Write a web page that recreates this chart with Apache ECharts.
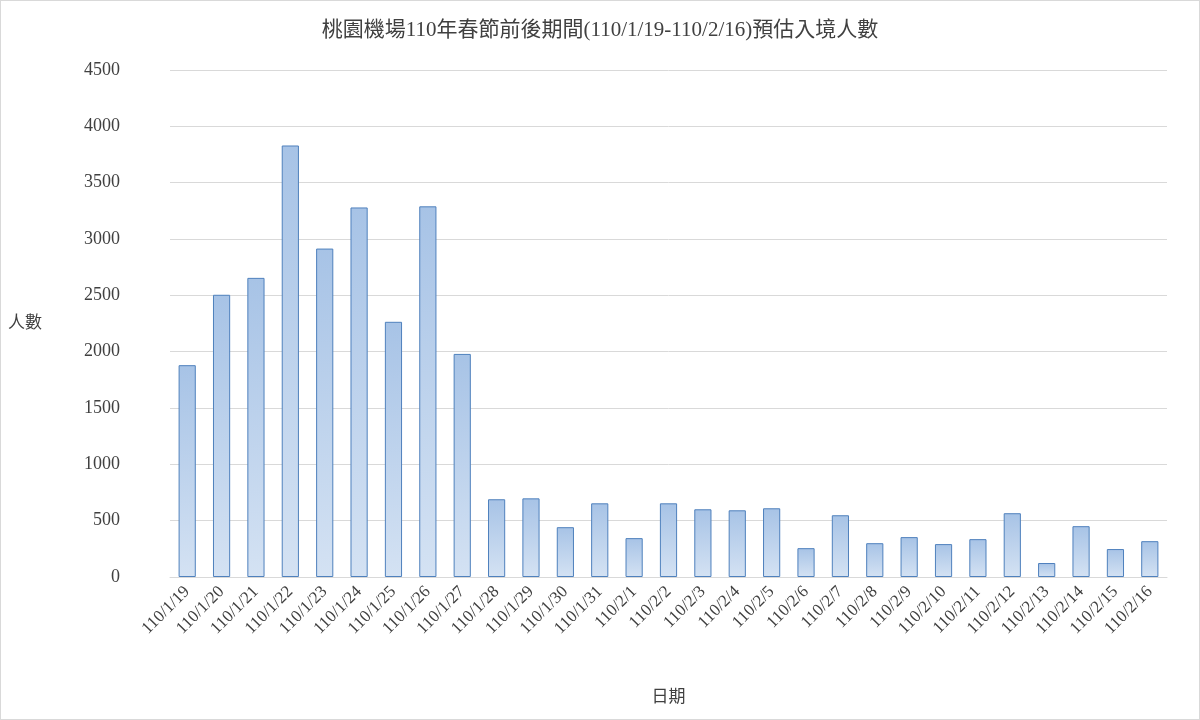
<!DOCTYPE html>
<html><head><meta charset="utf-8">
<script src="https://cdn.jsdelivr.net/npm/echarts@6/dist/echarts.min.js"></script>
<style>html,body{margin:0;padding:0;background:#fff}#c{width:1200px;height:720px;box-sizing:border-box;border:1px solid #d9d9d9}</style>
</head><body><div id="c"></div>
<script>
const title = '桃園機場110年春節前後期間(110/1/19-110/2/16)預估入境人數';
const categories = ['110/1/19','110/1/20','110/1/21','110/1/22','110/1/23','110/1/24','110/1/25','110/1/26','110/1/27','110/1/28','110/1/29','110/1/30','110/1/31','110/2/1','110/2/2','110/2/3','110/2/4','110/2/5','110/2/6','110/2/7','110/2/8','110/2/9','110/2/10','110/2/11','110/2/12','110/2/13','110/2/14','110/2/15','110/2/16'];
const values = [1880,2505,2655,3830,2915,3280,2265,3290,1980,690,698,442,654,345,654,601,592,610,256,548,300,354,292,336,566,124,451,248,318];
const yTicks = {min:0, max:4500, interval:500};
const font = '"Liberation Serif","Noto Sans CJK TC",serif';
const chart = echarts.init(document.getElementById('c'));
chart.setOption({
  animation:false,
  textStyle:{fontFamily:font},
  title:{text:title,left:'center',top:14,textStyle:{fontFamily:font,fontSize:21,fontWeight:'normal',color:'#404040'}},
  grid:{left:169,right:32,top:69,bottom:142},
  xAxis:{type:'category',data:categories,name:'日期',nameLocation:'middle',nameGap:112,
    nameTextStyle:{fontSize:17,color:'#404040'},
    axisLine:{lineStyle:{color:'#d9d9d9'}},axisTick:{show:false},
    axisLabel:{rotate:45,interval:0,fontSize:17,color:'#404040',margin:12}},
  yAxis:{type:'value',min:yTicks.min,max:yTicks.max,interval:yTicks.interval,name:'人數',
    nameLocation:'middle',nameRotate:0,nameGap:128,nameTextStyle:{fontSize:17,color:'#404040',padding:[0,0,-30,0]},
    axisLabel:{fontSize:18,color:'#404040',margin:50,formatter:v=>String(v)},axisLine:{show:false},axisTick:{show:false},
    splitLine:{lineStyle:{color:'#d9d9d9'}}},
  series:[{type:'bar',data:values,barWidth:'50%',
    itemStyle:{borderColor:'#4f81bd',borderWidth:1,
      color:new echarts.graphic.LinearGradient(0,0,0,1,[{offset:0,color:'#a7c3e6'},{offset:1,color:'#d4e2f3'}])}}]
});
</script></body></html>
